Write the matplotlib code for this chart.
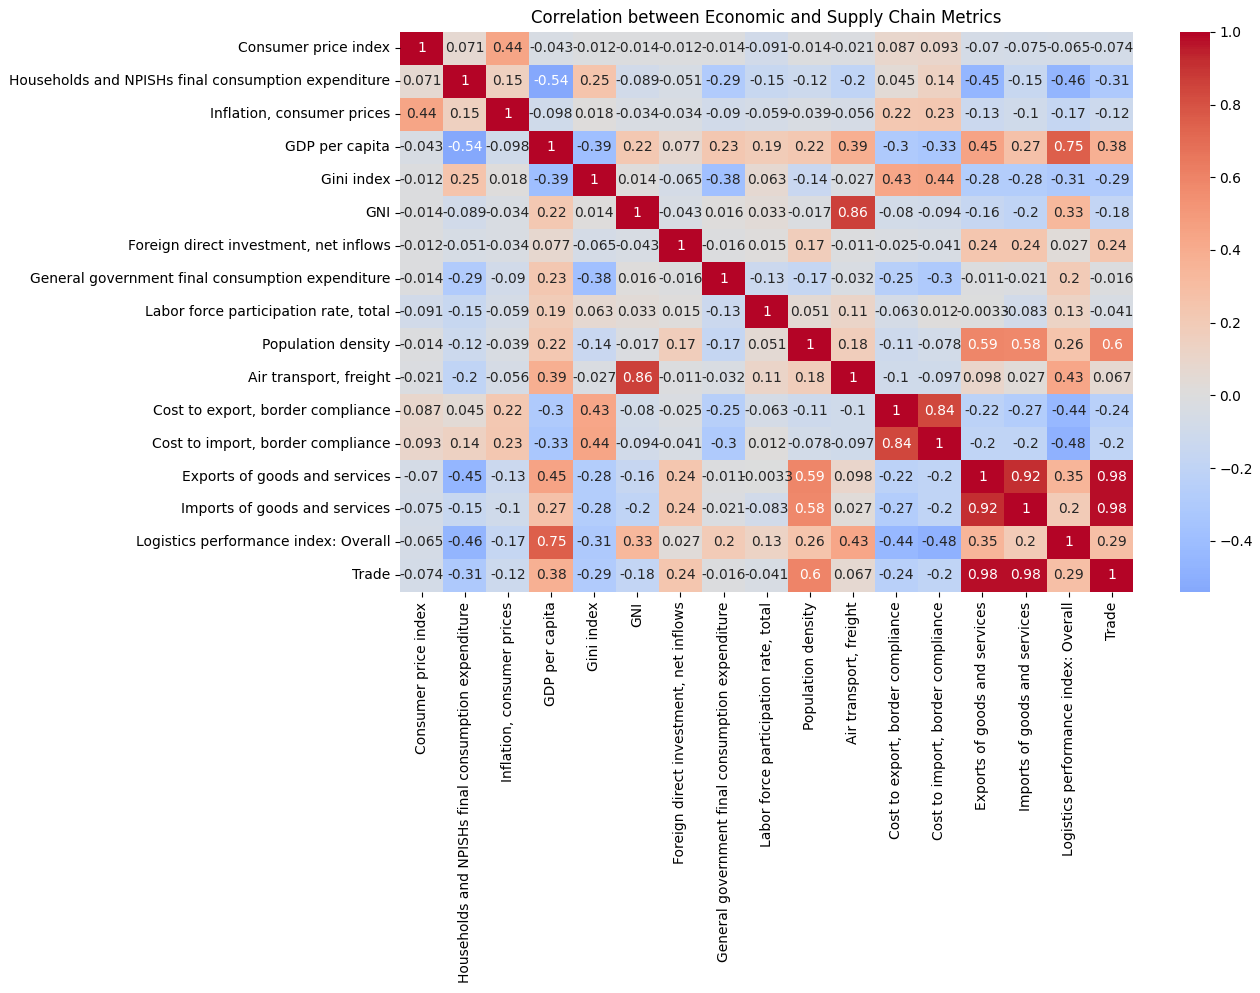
import numpy as np
import pandas as pd
import matplotlib
matplotlib.use("Agg")
import matplotlib.pyplot as plt
import seaborn as sns

labels = [
    "Consumer price index",
    "Households and NPISHs final consumption expenditure",
    "Inflation, consumer prices",
    "GDP per capita",
    "Gini index",
    "GNI",
    "Foreign direct investment, net inflows",
    "General government final consumption expenditure",
    "Labor force participation rate, total",
    "Population density",
    "Air transport, freight",
    "Cost to export, border compliance",
    "Cost to import, border compliance",
    "Exports of goods and services",
    "Imports of goods and services",
    "Logistics performance index: Overall",
    "Trade",
]

# correlation values, row by row
corr = [
    [1, 0.071, 0.44, -0.043, -0.012, -0.014, -0.012, -0.014, -0.091, -0.014, -0.021, 0.087, 0.093, -0.07, -0.075, -0.065, -0.074],
    [0.071, 1, 0.15, -0.54, 0.25, -0.089, -0.051, -0.29, -0.15, -0.12, -0.2, 0.045, 0.14, -0.45, -0.15, -0.46, -0.31],
    [0.44, 0.15, 1, -0.098, 0.018, -0.034, -0.034, -0.09, -0.059, -0.039, -0.056, 0.22, 0.23, -0.13, -0.1, -0.17, -0.12],
    [-0.043, -0.54, -0.098, 1, -0.39, 0.22, 0.077, 0.23, 0.19, 0.22, 0.39, -0.3, -0.33, 0.45, 0.27, 0.75, 0.38],
    [-0.012, 0.25, 0.018, -0.39, 1, 0.014, -0.065, -0.38, 0.063, -0.14, -0.027, 0.43, 0.44, -0.28, -0.28, -0.31, -0.29],
    [-0.014, -0.089, -0.034, 0.22, 0.014, 1, -0.043, 0.016, 0.033, -0.017, 0.86, -0.08, -0.094, -0.16, -0.2, 0.33, -0.18],
    [-0.012, -0.051, -0.034, 0.077, -0.065, -0.043, 1, -0.016, 0.015, 0.17, -0.011, -0.025, -0.041, 0.24, 0.24, 0.027, 0.24],
    [-0.014, -0.29, -0.09, 0.23, -0.38, 0.016, -0.016, 1, -0.13, -0.17, -0.032, -0.25, -0.3, -0.011, -0.021, 0.2, -0.016],
    [-0.091, -0.15, -0.059, 0.19, 0.063, 0.033, 0.015, -0.13, 1, 0.051, 0.11, -0.063, 0.012, -0.0033, -0.083, 0.13, -0.041],
    [-0.014, -0.12, -0.039, 0.22, -0.14, -0.017, 0.17, -0.17, 0.051, 1, 0.18, -0.11, -0.078, 0.59, 0.58, 0.26, 0.6],
    [-0.021, -0.2, -0.056, 0.39, -0.027, 0.86, -0.011, -0.032, 0.11, 0.18, 1, -0.1, -0.097, 0.098, 0.027, 0.43, 0.067],
    [0.087, 0.045, 0.22, -0.3, 0.43, -0.08, -0.025, -0.25, -0.063, -0.11, -0.1, 1, 0.84, -0.22, -0.27, -0.44, -0.24],
    [0.093, 0.14, 0.23, -0.33, 0.44, -0.094, -0.041, -0.3, 0.012, -0.078, -0.097, 0.84, 1, -0.2, -0.2, -0.48, -0.2],
    [-0.07, -0.45, -0.13, 0.45, -0.28, -0.16, 0.24, -0.011, -0.0033, 0.59, 0.098, -0.22, -0.2, 1, 0.92, 0.35, 0.98],
    [-0.075, -0.15, -0.1, 0.27, -0.28, -0.2, 0.24, -0.021, -0.083, 0.58, 0.027, -0.27, -0.2, 0.92, 1, 0.2, 0.98],
    [-0.065, -0.46, -0.17, 0.75, -0.31, 0.33, 0.027, 0.2, 0.13, 0.26, 0.43, -0.44, -0.48, 0.35, 0.2, 1, 0.29],
    [-0.074, -0.31, -0.12, 0.38, -0.29, -0.18, 0.24, -0.016, -0.041, 0.6, 0.067, -0.24, -0.2, 0.98, 0.98, 0.29, 1],
]

df = pd.DataFrame(np.array(corr), index=labels, columns=labels)

fig = plt.figure(figsize=(12.6, 9.93), dpi=100)
ax = fig.add_axes([0.3175, 0.404, 0.582, 0.564])
cax = fig.add_axes([0.9365, 0.404, 0.0235, 0.564])

sns.heatmap(df, annot=True, cmap="coolwarm", center=0, ax=ax, cbar_ax=cax)
ax.set_title("Correlation between Economic and Supply Chain Metrics")

fig.savefig("out.png")
